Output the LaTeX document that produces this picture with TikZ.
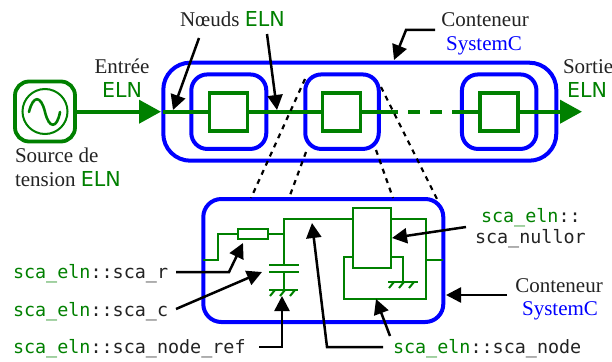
\documentclass[tikz,border=0pt]{standalone}
\usepackage{fontspec}
\setmainfont{Liberation Serif}
\setsansfont{DejaVu Sans}
\setmonofont{DejaVu Sans Mono}
\usetikzlibrary{arrows.meta}
\definecolor{elngreen}{RGB}{0,128,0}
\definecolor{scblue}{RGB}{0,0,255}
\definecolor{ink}{RGB}{35,35,35}
\newcommand{\eln}{\textcolor{elngreen}{\fontsize{20.6}{24}\selectfont\sffamily ELN}}
\newcommand{\scaeln}{\textcolor{elngreen}{sca\_eln}}
\tikzset{
  every node/.style={inner sep=0pt,outer sep=0pt,text=ink},
  serif/.style={font=\fontsize{21}{24}\selectfont,anchor=base},
  monotext/.style={font=\fontsize{18.4}{22}\ttfamily\selectfont,anchor=base west},
  bluebox/.style={draw=scblue,line width=4pt,minimum width=#1},
  greensq/.style={draw=elngreen,line width=3.6pt,minimum width=38pt,minimum height=38pt},
  mainwire/.style={draw=elngreen,line width=4pt},
  bigtip/.style={-{Triangle[length=22pt,width=23pt,fill=elngreen,color=elngreen]}},
  circ/.style={draw=elngreen,line width=2pt,line join=miter},
  callout/.style={draw=black,line width=2.5pt,-{Triangle[length=15pt,width=15pt]}},
  zoomline/.style={draw=black,line width=2.2pt,dash pattern=on 5pt off 5pt},
}
\begin{document}
\begin{tikzpicture}[x=1pt,y=-1pt]
\useasboundingbox (0,0) rectangle (612,361);
% source
\node[draw=elngreen,line width=3.8pt,rounded corners=14pt,minimum width=60pt,minimum height=60pt] (src) at (45,111.5) {};
\node[draw=elngreen,line width=2pt,circle,minimum size=45pt] (srccirc) at (45,111.5) {};
\draw[elngreen,line width=2.6pt,line cap=round] (29,112) .. controls (33,95) and (41,95) .. (45,112) .. controls (49,129) and (57,129) .. (60,112);
% containers
\node[bluebox=393pt,minimum height=98pt,rounded corners=27pt] (outer) at (359.8,111.7) {};
\node[bluebox=75pt,minimum height=74.5pt,rounded corners=16pt] (inA) at (228.8,111.7) {};
\node[bluebox=73.5pt,minimum height=74.5pt,rounded corners=16pt] (inB) at (342,111.7) {};
\node[bluebox=74.5pt,minimum height=74.5pt,rounded corners=16pt] (inC) at (499.2,111.7) {};
\node[greensq] (sqA) at (228.5,111.7) {};
\node[greensq] (sqB) at (341.3,111.7) {};
\node[greensq] (sqC) at (499,111.7) {};
% ELN wires
\coordinate (dashA) at (386,111.7);
\coordinate (dashB) at (455,111.7);
\coordinate (tipin) at (161,111.7);
\coordinate (tipout) at (582,111.7);
\draw[mainwire,bigtip] (src.east |- tipin) -- (tipin);
\draw[mainwire] (outer.west) -- (sqA.west);
\draw[mainwire] (sqA.east) -- (sqB.west);
\draw[mainwire] (sqB.east) -- (dashA);
\draw[mainwire,dash pattern=on 12pt off 10pt] (dashA) -- (dashB);
\draw[mainwire] (dashB) -- (sqC.west);
\draw[mainwire,bigtip] (sqC.east) -- (tipout);
% lower container
\node[bluebox=240pt,minimum height=123pt,rounded corners=18pt] (low) at (323.3,260.5) {};
% zoom lines
\coordinate (zA) at (305,79);
\coordinate (zB) at (306,152);
\coordinate (zC) at (376,150);
\coordinate (zD) at (381,87);
\coordinate (zE) at (251,198);
\coordinate (zF) at (289,198);
\coordinate (zG) at (393,198);
\coordinate (zH) at (438,201);
\draw[zoomline] (zA) -- (zE);
\draw[zoomline] (zB) -- (zF);
\draw[zoomline] (zC) -- (zG);
\draw[zoomline] (zD) -- (zH);
% circuit
\node[draw=elngreen,line width=2pt,minimum width=30pt,minimum height=10pt] (res) at (253,234) {};
\node[draw=elngreen,line width=2pt,minimum width=38pt,minimum height=60pt] (nul) at (372,238) {};
\coordinate (vin) at (203,260);
\coordinate (vout) at (443,260);
\coordinate (junc) at (284,234);
\draw[circ] (vin) -| (218,234) -- (res.west);
\draw[circ] (res.east) -- (junc);
\draw[circ] (284,264) -- (284,219) -- (353,219);
\draw[circ] (269,264.5) -- (299,264.5);
\draw[circ] (269,272) -- (299,272);
\draw[circ] (284,272) -- (284,290);
\draw[circ] (269,290) -- (298,290);
\foreach \x in {275,285,295} \draw[circ] (\x,290) -- (\x-5,296);
\draw[circ] (391,219) -- (426,219) -- (426,299) -- (344,299) -- (344,257) -- (353,257);
\draw[circ] (426,260) -- (vout);
\draw[circ] (391,257) -- (403,257) -- (403,282);
\draw[circ] (388,282) -- (418,282);
\foreach \x in {394,404,414} \draw[circ] (\x,282) -- (\x-5,288);
% texts
\node[serif,anchor=base west] (tn) at (180,27) {Nœuds \eln};
\node[serif] (te) at (122,73) {Entrée};
\node[serif] (tee) at (122,97) {\eln};
\node[serif,anchor=base west] (ts) at (15,162) {Source de};
\node[serif,anchor=base west] (tt) at (15,186) {tension \eln};
\node[serif] (tc) at (485,27) {Conteneur};
\node[serif] (tsc) at (484,50) {\textcolor{scblue}{SystemC}};
\node[serif,anchor=base west] (tso) at (563,73) {Sortie};
\node[serif] (tse) at (587,97) {\eln};
\node[monotext] (mr) at (13,278) {\scaeln::sca\_r};
\node[monotext] (mc) at (13,316) {\scaeln::sca\_c};
\node[monotext] (mref) at (13,353) {\scaeln::sca\_node\_ref};
\node[monotext] (mnode) at (393,353) {\scaeln::sca\_node};
\node[monotext] (mnul) at (481,222) {\scaeln::};
\node[monotext] (mnulb) at (475,243) {sca\_nullor};
\node[serif] (tc2) at (559,292) {Conteneur};
\node[serif] (tsc2) at (560,315) {\textcolor{scblue}{SystemC}};
% callouts
\coordinate (a1s) at (199,38); \coordinate (a1t) at (173,110);
\coordinate (a2s) at (267,34); \coordinate (a2t) at (277,110);
\coordinate (a3s) at (435,30); \coordinate (a3t) at (394,60);
\coordinate (a4s) at (176,272); \coordinate (a4t) at (243,243);
\coordinate (a5s) at (176,309); \coordinate (a5t) at (262,272);
\coordinate (a6s) at (259,347); \coordinate (a6t) at (282,296);
\coordinate (a7s) at (383,347); \coordinate (a7t) at (312,223);
\coordinate (a8s) at (466,227); \coordinate (a8t) at (392,238);
\coordinate (a9s) at (507,295); \coordinate (a9t) at (446,295);
\coordinate (a10s) at (390,336); \coordinate (a10t) at (376,299);
\draw[callout] (a1s) -- (a1t);
\draw[callout] (a2s) -- (a2t);
\draw[callout] (a3s) -- (406,30) -- (a3t);
\draw[callout] (a4s) -- (229,272) -- (a4t);
\draw[callout] (a5s) -- (a5t);
\draw[callout] (a6s) -- (282,347) -- (a6t);
\draw[callout] (a7s) -- (327,347) -- (a7t);
\draw[callout] (a8s) -- (a8t);
\draw[callout] (a9s) -- (a9t);
\draw[callout] (a10s) -- (a10t);
\end{tikzpicture}
\end{document}
